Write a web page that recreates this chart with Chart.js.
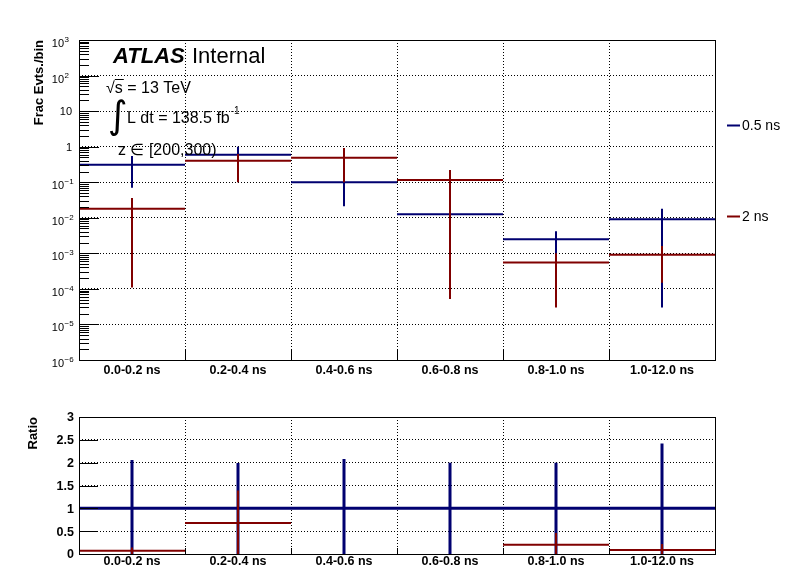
<!DOCTYPE html>
<html>
<head>
<meta charset="utf-8">
<script src="https://cdn.jsdelivr.net/npm/chart.js@4"></script>
<style>
  body { margin: 0; background: #fff; }
  #wrap { position: relative; width: 796px; height: 572px; background: #fff; }
  canvas { position: absolute; left: 0; }
  #fracChart { top: 0; }
  #ratioChart { top: 390px; }
</style>
</head>
<body>
<div id="wrap">
  <canvas id="fracChart" width="796" height="390"></canvas>
  <canvas id="ratioChart" width="796" height="182"></canvas>
</div>
<script>
// bins and series
const binLabels = ['0.0-0.2 ns', '0.2-0.4 ns', '0.4-0.6 ns', '0.6-0.8 ns', '0.8-1.0 ns', '1.0-12.0 ns'];
const seriesNames = ['0.5 ns', '2 ns'];

// fraction of events per bin (upper pad), error bar ends
const frac05 = [0.31, 0.59, 0.10, 0.0126, 0.0025, 0.0091];
const frac05Low = [0.07, 0.18, 0.021, 0.0006, 0.0008, 0.00003];
const frac05High = [0.55, 1.0, 0.18, 0.025, 0.0042, 0.018];
const frac2 = [0.018, 0.40, 0.49, 0.116, 0.00055, 0.00091];
const frac2Low = [0.00011, 0.10, 0.10, 0.000052, 0.00003, 0.00015];
const frac2High = [0.036, 0.62, 0.91, 0.22, 0.001, 0.0016];

// ratio to the 0.5 ns sample (lower pad)
const ratio05 = [1, 1, 1, 1, 1, 1];
const ratio05Low = [0, 0, 0, 0, 0, 0];
const ratio05High = [2.06, 1.99, 2.08, 2.0, 2.0, 2.42];
const ratio2 = [0.07, 0.68, 4.9, 9.2, 0.2, 0.09];
const ratio2Low = [0, 0, 4.9, 9.2, 0, 0];
const ratio2High = [0.14, 1.39, 4.9, 9.2, 0.46, 0.22];

// axis ticks
const logTicks = [1e-6, 1e-5, 1e-4, 1e-3, 1e-2, 1e-1, 1, 10, 100, 1000];
const ratioTicks = [0, 0.5, 1, 1.5, 2, 2.5, 3];

const FONT = '"Liberation Sans", Arial, Helvetica, sans-serif';
const BLUE = '#000070';
const RED = '#800000';
const binEdges = binLabels.map((_, i) => i).concat(binLabels.length);

// horizontal step per bin, broken between bins
function stepLine(vals) {
    const pts = [];
    vals.forEach((v, i) => {
        pts.push({x: i, y: v}, {x: i + 1, y: v}, {x: i + 1, y: null});
    });
    return pts;
}

// vertical error bar at the bin centre
function errorBars(lo, hi) {
    const pts = [];
    lo.forEach((l, i) => {
        pts.push({x: i + 0.5, y: l}, {x: i + 0.5, y: hi[i]}, {x: i + 0.5, y: null});
    });
    return pts;
}

function histSets(vals, lo, hi, color, width, order) {
    const base = {borderColor: color, borderWidth: width, pointRadius: 0, tension: 0, borderCapStyle: 'butt', fill: false, order: order};
    return [
        Object.assign({label: 'h', data: stepLine(vals)}, base),
        Object.assign({label: 'e', data: errorBars(lo, hi)}, base)
    ];
}

function axisOpts(extra) {
    return Object.assign({
        ticks: {display: false},
        grid: {color: '#000', lineWidth: 1, drawTicks: false},
        border: {display: false, dash: [1, 2]}
    }, extra);
}

// frame, inward tick marks and bin labels like a ROOT pad
function drawFrame(chart, yMajor, yMinor, majorLen, minorLen, xTickLen, labelY) {
    const ctx = chart.ctx, area = chart.chartArea;
    const xs = chart.scales.x, ys = chart.scales.y;
    ctx.save();
    ctx.strokeStyle = '#000';
    ctx.lineWidth = 1;
    ctx.setLineDash([]);
    const l = Math.round(area.left), t = Math.round(area.top);
    ctx.strokeRect(l + 0.5, t + 0.5, Math.round(area.right) - l, Math.round(area.bottom) - t);
    ctx.beginPath();
    yMajor.forEach(v => {
        const py = Math.round(ys.getPixelForValue(v)) + 0.5;
        ctx.moveTo(l, py);
        ctx.lineTo(l + majorLen, py);
    });
    yMinor.forEach(v => {
        const py = Math.round(ys.getPixelForValue(v)) + 0.5;
        ctx.moveTo(l, py);
        ctx.lineTo(l + minorLen, py);
    });
    binEdges.slice(1, -1).forEach(v => {
        const px = Math.round(xs.getPixelForValue(v)) + 0.5;
        ctx.moveTo(px, area.bottom);
        ctx.lineTo(px, area.bottom - xTickLen);
    });
    ctx.stroke();
    ctx.fillStyle = '#000';
    ctx.font = 'bold 12.5px ' + FONT;
    ctx.textAlign = 'center';
    ctx.textBaseline = 'middle';
    binLabels.forEach((lab, i) => ctx.fillText(lab, xs.getPixelForValue(i + 0.5), labelY));
    ctx.restore();
}

function yTitle(ctx, text, x, top) {
    ctx.save();
    ctx.translate(x, top);
    ctx.rotate(-Math.PI / 2);
    ctx.font = 'bold 13px ' + FONT;
    ctx.textAlign = 'right';
    ctx.textBaseline = 'alphabetic';
    ctx.fillStyle = '#000';
    ctx.fillText(text, 0, 0);
    ctx.restore();
}

// minor ticks of the log axis: 2..9 in every decade
const logMinor = [];
logTicks.slice(0, -1).forEach(d => { for (let k = 2; k < 10; k++) logMinor.push(d * k); });

const fracPlugin = {
    id: 'fracPad',
    afterDraw(chart) {
        const ctx = chart.ctx;
        const ys = chart.scales.y;
        drawFrame(chart, logTicks, logMinor, 20, 10, 10, 370.5);

        ctx.save();
        ctx.fillStyle = '#000';
        ctx.textBaseline = 'alphabetic';
        // y tick labels with exponents
        logTicks.forEach(v => {
            const py = ys.getPixelForValue(v);
            const n = Math.round(Math.log10(v));
            if (n === 0 || n === 1) {
                ctx.font = '11px ' + FONT;
                ctx.textAlign = 'right';
                ctx.fillText(n === 0 ? '1' : '10', 72, py + 4);
            } else {
                ctx.font = '11px ' + FONT;
                ctx.textAlign = 'right';
                ctx.fillText('10', 64, py + 7);
                ctx.font = '8px ' + FONT;
                ctx.textAlign = 'left';
                ctx.fillText(String(n).replace('-', '\u2212'), 64.5, py + 2);
            }
        });
        yTitle(ctx, 'Frac Evts./bin', 42.5, 40);

        // ATLAS label block
        ctx.textAlign = 'left';
        ctx.font = 'italic bold 22px ' + FONT;
        ctx.fillText('ATLAS', 113, 63);
        ctx.font = '22px ' + FONT;
        ctx.fillText('Internal', 192, 63);
        ctx.font = '16px ' + FONT;
        ctx.fillText('\u221A', 106, 93);
        const sx = 106 + ctx.measureText('\u221A').width;
        ctx.fillText('s = 13 TeV', sx, 93);
        ctx.fillRect(sx, 79, ctx.measureText('s').width + 1, 1);
        ctx.font = '38px "DejaVu Sans"';
        ctx.fillText('\u222B', 108, 128);
        ctx.font = '16px ' + FONT;
        ctx.fillText('L dt = 138.5 fb', 127, 123);
        const fx = 127 + ctx.measureText('L dt = 138.5 fb').width;
        ctx.font = '10px ' + FONT;
        ctx.fillText('-1', fx + 1, 114);
        ctx.font = '16px ' + FONT;
        ctx.fillText('z \u2208 [200,300)', 118, 155);

        // legend
        const colors = [BLUE, RED];
        const legY = [125.5, 216.5];
        ctx.font = '14px ' + FONT;
        ctx.textBaseline = 'middle';
        seriesNames.forEach((name, i) => {
            ctx.fillStyle = colors[i];
            ctx.fillRect(727, legY[i] - 1, 13, 2);
            ctx.fillStyle = '#000';
            ctx.fillText(name, 742, legY[i] + 1);
        });
        ctx.restore();
    }
};

const ratioPlugin = {
    id: 'ratioPad',
    afterDraw(chart) {
        const ctx = chart.ctx;
        const ys = chart.scales.y;
        drawFrame(chart, ratioTicks, [], 19, 0, 6, 172);
        ctx.save();
        ctx.fillStyle = '#000';
        ctx.font = 'bold 12.5px ' + FONT;
        ctx.textAlign = 'right';
        ctx.textBaseline = 'middle';
        ratioTicks.forEach(v => ctx.fillText(String(v), 74, ys.getPixelForValue(v) + 1));
        yTitle(ctx, 'Ratio', 37, 27);
        ctx.restore();
    }
};

// lower order is drawn last: red sits over blue, as in the ROOT canvas
// right padding 81 keeps the bins 106px wide so bar centres land on whole pixels
const fracChart = new Chart(document.getElementById('fracChart').getContext('2d'), {
    type: 'line',
    data: {
        datasets: histSets(frac2, frac2Low, frac2High, RED, 2, 0)
            .concat(histSets(frac05, frac05Low, frac05High, BLUE, 2, 1))
    },
    options: {
        responsive: false,
        animation: false,
        layout: {padding: {top: 40, right: 81, left: 0, bottom: 0}},
        plugins: {legend: {display: false}, tooltip: {enabled: false}},
        scales: {
            x: axisOpts({
                type: 'linear', min: 0, max: binLabels.length,
                afterFit: s => { s.height = 30; },
                afterBuildTicks: s => { s.ticks = binEdges.map(v => ({value: v})); }
            }),
            y: axisOpts({
                type: 'logarithmic', min: 1e-6, max: 1e3,
                afterFit: s => { s.width = 79; },
                afterBuildTicks: s => { s.ticks = logTicks.map(v => ({value: v})); }
            })
        }
    },
    plugins: [fracPlugin]
});

const ratioChart = new Chart(document.getElementById('ratioChart').getContext('2d'), {
    type: 'line',
    data: {
        datasets: histSets(ratio2, ratio2Low, ratio2High, RED, 2, 0)
            .concat(histSets(ratio05, ratio05Low, ratio05High, BLUE, 3, 1))
    },
    options: {
        responsive: false,
        animation: false,
        layout: {padding: {top: 27, right: 81, left: 0, bottom: 0}},
        plugins: {legend: {display: false}, tooltip: {enabled: false}},
        scales: {
            x: axisOpts({
                type: 'linear', min: 0, max: binLabels.length,
                afterFit: s => { s.height = 18; },
                afterBuildTicks: s => { s.ticks = binEdges.map(v => ({value: v})); }
            }),
            y: axisOpts({
                type: 'linear', min: 0, max: 3,
                afterFit: s => { s.width = 79; },
                afterBuildTicks: s => { s.ticks = ratioTicks.map(v => ({value: v})); }
            })
        }
    },
    plugins: [ratioPlugin]
});
</script>
</body>
</html>
